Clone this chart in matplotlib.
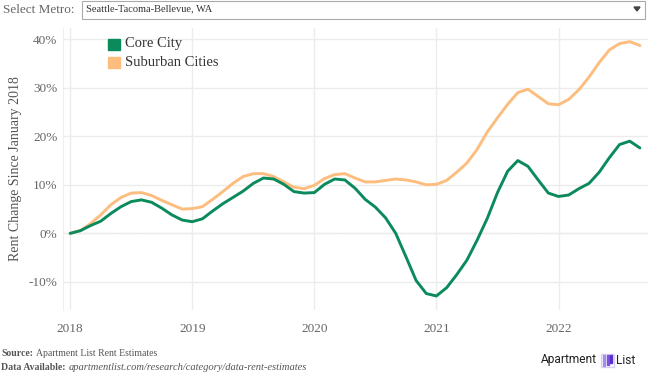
import matplotlib
matplotlib.use('Agg')
from matplotlib import pyplot as plt
from matplotlib.patches import Rectangle, Polygon

plt.rcParams['font.family'] = ['Liberation Serif', 'DejaVu Serif']

# monthly values, Jan 2018 .. Sep 2022 (% change since Jan 2018)
core_city = [0.0, 0.55, 1.6, 2.5, 4.1, 5.5, 6.55, 6.9, 6.4, 5.2, 3.8, 2.75,
             2.4, 3.0, 4.6, 6.1, 7.4, 8.7, 10.3, 11.4, 11.2, 10.1, 8.6, 8.3,
             8.4, 10.1, 11.2, 11.0, 9.3, 7.0, 5.4, 3.2, 0.0, -4.8, -9.7, -12.4,
             -12.9, -11.2, -8.5, -5.5, -1.4, 3.1, 8.4, 12.8, 15.0, 13.8, 11.0, 8.3,
             7.6, 7.9, 9.2, 10.3, 12.6, 15.6, 18.3, 19.0, 17.6]
suburban = [0.0, 0.55, 2.0, 3.8, 5.9, 7.4, 8.3, 8.4, 7.8, 6.8, 5.9, 5.0,
            5.1, 5.5, 7.0, 8.6, 10.3, 11.7, 12.3, 12.3, 11.7, 10.6, 9.5, 9.2,
            9.9, 11.3, 12.1, 12.3, 11.4, 10.6, 10.6, 10.9, 11.2, 11.0, 10.6, 10.0,
            10.1, 10.9, 12.6, 14.5, 17.3, 20.9, 23.8, 26.6, 29.0, 29.7, 28.2, 26.7,
            26.5, 27.6, 29.6, 32.2, 35.2, 37.8, 39.1, 39.5, 38.7]
months = list(range(len(core_city)))
year_labels = ['2018', '2019', '2020', '2021', '2022']
y_ticks = [-10, 0, 10, 20, 30, 40]

green = '#0b8a5c'
orange = '#fdbd7e'
grey = '#666666'

fig = plt.figure(figsize=(6.5, 3.74), dpi=100)
ax = fig.add_axes([0.097, 0.171, 0.9, 0.754])

ax.plot(months, suburban, color=orange, lw=2.1, solid_capstyle='round', zorder=3)
ax.plot(months, core_city, color=green, lw=2.1, solid_capstyle='round', zorder=4)

ax.set_xlim(-0.7, 56.8)
ax.set_ylim(-15.8, 42.3)
ax.set_xticks([i * 12 for i in range(len(year_labels))])
ax.set_xticklabels(year_labels)
ax.set_yticks(y_ticks)
ax.set_yticklabels(['%d%%' % v for v in y_ticks])
ax.tick_params(length=0, labelsize=9.5, labelcolor=grey, pad=4)
ax.tick_params(axis='x', pad=9)
ax.grid(True, color='#ececec', lw=1.0, zorder=0)
ax.axhline(0, color='#dddddd', lw=1.0, ls=(0, (1, 1)), zorder=1)
for s in ['top', 'right', 'bottom']:
    ax.spines[s].set_visible(False)
ax.spines['left'].set_color('#eeeeee')
ax.set_ylabel('Rent Change Since January 2018', fontsize=10, color='#555555', labelpad=5)

# legend
fig.patches.append(Rectangle((108, 374 - 50), 12, 11, transform=None, color=green, figure=fig))
fig.patches.append(Rectangle((108, 374 - 68), 12, 11, transform=None, color=orange, figure=fig))
fig.text(125 / 650, 1 - 44 / 374, 'Core City', fontsize=10.5, color='#333333', va='center')
fig.text(125 / 650, 1 - 62 / 374, 'Suburban Cities', fontsize=10.5, color='#333333', va='center')

# dropdown
fig.text(3 / 650, 1 - 10 / 374, 'Select Metro:', fontsize=9.5, color=grey, va='center')
fig.patches.append(Rectangle((82, 374 - 19), 563, 18, transform=None, fill=False,
                             ec='#aaaaaa', lw=0.8, figure=fig))
fig.text(86 / 650, 1 - 9 / 374, 'Seattle-Tacoma-Bellevue, WA', fontsize=7.5, color='#333333', va='center')
fig.patches.append(Polygon([(634, 374 - 7), (640, 374 - 7), (637, 374 - 11)], transform=None,
                           color='#444444', figure=fig))

# footer
fig.text(1 / 650, 1 - 353 / 374, 'Source:', fontsize=7, color='#555555', va='center', weight='bold')
fig.text(36 / 650, 1 - 353 / 374, 'Apartment List Rent Estimates', fontsize=7, color='#555555', va='center')
fig.text(1 / 650, 1 - 367 / 374, 'Data Available:', fontsize=7, color='#555555', va='center', weight='bold')
fig.text(69 / 650, 1 - 367 / 374, 'apartmentlist.com/research/category/data-rent-estimates',
         fontsize=7.6, color='#555555', va='center', style='italic')

# logo
fig.text(541 / 650, 1 - 360 / 374, 'Apartment', fontsize=8.6, family='Roboto', color='#222222', va='center')
fig.text(616 / 650, 1 - 360 / 374, 'List', fontsize=8.6, family='Roboto', color='#222222', va='center')
fig.patches.append(Rectangle((601, 374 - 367), 13, 13, transform=None, fill=False,
                             ec='#d8cdf6', lw=1.0, figure=fig))
for i, c in enumerate(['#a58bec', '#7c52e0', '#5b2fc9']):
    fig.patches.append(Rectangle((603 + i * 3.5, 374 - 366 + i * 1.5), 2, 11 - i * 1.5, transform=None,
                                 color=c, figure=fig))

fig.savefig('out.png', dpi=100)
